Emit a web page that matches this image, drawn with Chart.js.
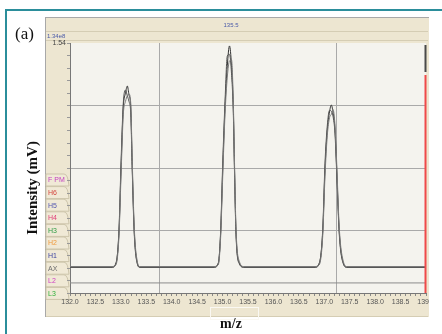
<!DOCTYPE html>
<html lang="en">
<head>
<meta charset="UTF-8">
<title>m/z scan</title>
<script src="https://cdn.jsdelivr.net/npm/chart.js"></script>
<style>
  html, body { margin: 0; padding: 0; background: #fff; }
  canvas { display: block; }
</style>
</head>
<body>
<canvas id="scanChart" width="442" height="334"></canvas>
<script>
// m/z sample positions shared by the three traces
const mzPoints = [
  132.000,
  132.826, 132.904, 132.963, 133.003, 133.048, 133.091, 133.127, 133.160, 133.194, 133.225, 133.264, 133.323, 133.376,
  134.831, 134.916, 134.963, 135.003, 135.048, 135.093, 135.136, 135.176, 135.211, 135.235, 135.264, 135.329, 135.421,
  136.817, 136.902, 136.969, 137.014, 137.059, 137.103, 137.138, 137.171, 137.211, 137.244, 137.295, 137.374, 137.447,
  139.000
];
const traceA = [
  0.160,
  0.160, 0.185, 0.376, 0.764, 1.146, 1.230, 1.275, 1.220, 1.146, 0.764, 0.376, 0.185, 0.160,
  0.160, 0.185, 0.376, 0.764, 1.146, 1.400, 1.522, 1.400, 1.146, 0.764, 0.376, 0.185, 0.160,
  0.160, 0.185, 0.376, 0.764, 1.004, 1.115, 1.158, 1.115, 1.004, 0.764, 0.376, 0.185, 0.160,
  0.160
];
const traceB = [
  0.157,
  0.157, 0.180, 0.390, 0.800, 1.170, 1.250, 1.215, 1.180, 1.110, 0.740, 0.360, 0.180, 0.157,
  0.157, 0.180, 0.390, 0.800, 1.180, 1.460, 1.470, 1.350, 1.110, 0.740, 0.360, 0.180, 0.157,
  0.157, 0.180, 0.390, 0.800, 1.030, 1.125, 1.120, 1.090, 0.980, 0.740, 0.360, 0.180, 0.157,
  0.157
];
const traceC = [
  0.163,
  0.163, 0.175, 0.350, 0.720, 1.100, 1.180, 1.215, 1.225, 1.170, 0.800, 0.400, 0.195, 0.163,
  0.163, 0.175, 0.350, 0.720, 1.100, 1.330, 1.430, 1.435, 1.180, 0.800, 0.400, 0.195, 0.163,
  0.163, 0.175, 0.350, 0.720, 0.970, 1.080, 1.100, 1.130, 1.030, 0.800, 0.400, 0.195, 0.163,
  0.163
];
// flat collector trace below the baseline
const flatMz = [132.0, 139.0];
const flatValues = [0.062, 0.062];

// axis labels
const xLabels = [132.0, 132.5, 133.0, 133.5, 134.0, 134.5, 135.0, 135.5, 136.0, 136.5, 137.0, 137.5, 138.0, 138.5, 139.0];
const yMax = 1.54;
const gridX = [133.75, 137.23];
const collectors = ["F PM", "H6", "H5", "H4", "H3", "H2", "H1", "AX", "L2", "L3"];
const collectorColors = ["#c33fc0", "#d4473f", "#5558b0", "#e0407a", "#2f9c45", "#ef9a3c", "#3d44a0", "#6e6e6e", "#d040c4", "#2fb03a"];

function toPoints(xs, ys) {
  return xs.map((x, i) => ({ x: x, y: ys[i] }));
}

const windowPlugin = {
  id: "windowPlugin",
  beforeDraw(chart) {
    const c = chart.ctx;
    const a = chart.chartArea;
    c.save();
    c.fillStyle = "#fff";
    c.fillRect(0, 0, chart.width, chart.height);

    // teal frame
    c.strokeStyle = "#2b8e9b";
    c.lineWidth = 2;
    c.beginPath();
    c.moveTo(442, 10);
    c.lineTo(6, 10);
    c.lineTo(6, 334);
    c.stroke();

    // software window
    c.fillStyle = "#ede6d1";
    c.fillRect(45, 17, 384, 300);
    c.lineWidth = 1;
    c.strokeStyle = "#a8a8a8";
    c.beginPath();
    c.moveTo(45, 17.5); c.lineTo(429, 17.5);
    c.moveTo(45.5, 17); c.lineTo(45.5, 317);
    c.stroke();
    c.strokeStyle = "#d5cdb4";
    c.beginPath();
    c.moveTo(46, 31.5); c.lineTo(428, 31.5);
    c.moveTo(46, 40.5); c.lineTo(428, 40.5);
    c.moveTo(46, 316.5); c.lineTo(428, 316.5);
    c.stroke();

    c.fillStyle = "#4a5aa8";
    c.font = "6px 'Liberation Sans'";
    c.textBaseline = "middle";
    c.textAlign = "center";
    c.fillText("135.5", 231, 25);
    c.textAlign = "left";
    c.fillText("1.34e8", 47, 36);

    // plot background
    c.fillStyle = "#f4f3ee";
    c.fillRect(a.left, a.top, a.right - a.left, a.bottom - a.top);

    // collector tabs
    c.font = "7px 'Liberation Sans'";
    collectors.forEach((name, i) => {
      const cy = 180 + i * 12.6;
      c.fillStyle = "#f0e9d6";
      c.strokeStyle = "#cdc5ab";
      c.beginPath();
      c.moveTo(46, cy - 6);
      c.lineTo(64, cy - 6);
      c.quadraticCurveTo(68, cy - 6, 69, cy + 6);
      c.lineTo(46, cy + 6);
      c.closePath();
      c.fill();
      c.stroke();
      c.fillStyle = collectorColors[i];
      c.fillText(name, 48, cy + 0.5);
    });

    // m/z box
    c.strokeStyle = "#faf8f2";
    c.strokeRect(210.5, 307.5, 48, 12);

    // titles
    c.fillStyle = "#111";
    c.font = "17px 'Liberation Serif'";
    c.textAlign = "left";
    c.textBaseline = "alphabetic";
    c.fillText("(a)", 15, 39);
    c.font = "bold 14px 'Liberation Serif'";
    c.textAlign = "center";
    c.fillText("m/z", 231, 328);
    c.save();
    c.translate(37, 188);
    c.rotate(-Math.PI / 2);
    c.font = "bold 15px 'Liberation Serif'";
    c.fillText("Intensity (mV)", 0, 0);
    c.restore();
    c.restore();
  },
  beforeDatasetsDraw(chart) {
    const c = chart.ctx;
    const a = chart.chartArea;
    const xs = chart.scales.x;
    c.save();
    c.strokeStyle = "#a9a9a9";
    c.lineWidth = 1;
    gridX.forEach(v => {
      const px = Math.round(xs.getPixelForValue(v)) + 0.5;
      c.beginPath();
      c.moveTo(px, a.top);
      c.lineTo(px, a.bottom);
      c.stroke();
    });
    c.restore();
  },
  afterDraw(chart) {
    const c = chart.ctx;
    const a = chart.chartArea;
    c.save();
    c.fillStyle = "#fff";
    c.fillRect(429, 12, 13, 322);
    c.fillStyle = "#4a4a4a";
    c.fillRect(a.right - 1.5, a.top + 2, 2, 27);
    c.fillStyle = "#ef4a4a";
    c.fillRect(a.right - 1.5, a.top + 32, 2, a.bottom - a.top - 32);
    c.restore();
  }
};

const traceStyle = {
  pointRadius: 0,
  borderWidth: 1,
  cubicInterpolationMode: "monotone",
  fill: false
};

new Chart(document.getElementById("scanChart"), {
  type: "line",
  data: {
    datasets: [
      Object.assign({ data: toPoints(flatMz, flatValues), borderColor: "#8c8c8c" }, traceStyle),
      Object.assign({ data: toPoints(mzPoints, traceC), borderColor: "#7a7a7a" }, traceStyle),
      Object.assign({ data: toPoints(mzPoints, traceB), borderColor: "#555" }, traceStyle),
      Object.assign({ data: toPoints(mzPoints, traceA), borderColor: "#333" }, traceStyle)
    ]
  },
  options: {
    responsive: false,
    animation: false,
    devicePixelRatio: 1,
    layout: { padding: { left: 45, right: 16, top: 43, bottom: 17 } },
    plugins: { legend: { display: false }, tooltip: { enabled: false } },
    scales: {
      x: {
        type: "linear",
        min: 132,
        max: 139,
        afterBuildTicks(s) {
          const t = [];
          for (let i = 0; i <= 70; i++) t.push({ value: Math.round((132 + i * 0.1) * 10) / 10 });
          s.ticks = t;
        },
        afterFit(s) { s.height = 24; },
        ticks: {
          autoSkip: false,
          maxRotation: 0,
          padding: 2,
          color: "#555",
          font: { family: "Liberation Sans", size: 7 },
          callback(v) {
            return xLabels.some(l => Math.abs(l - v) < 1e-6) ? v.toFixed(1) : "";
          }
        },
        grid: { drawOnChartArea: false, drawTicks: true, tickLength: 3, tickColor: "#888" },
        border: { color: "#777" }
      },
      y: {
        min: 0,
        max: yMax,
        afterBuildTicks(s) {
          const t = [];
          for (let i = 0; i <= 20; i++) t.push({ value: Math.round(i * yMax / 20 * 1000) / 1000 });
          s.ticks = t;
        },
        afterFit(s) { s.width = 25; },
        ticks: {
          autoSkip: false,
          padding: 1,
          color: "#444",
          font: { family: "Liberation Sans", size: 7 },
          callback(v, i, t) { return i === t.length - 1 ? yMax.toFixed(2) : ""; }
        },
        grid: {
          color: ctx => (ctx.index % 5 === 0 && ctx.index > 0 && ctx.index < 20) ? "#a9a9a9" : "rgba(0,0,0,0)",
          tickColor: "#999",
          tickLength: 3
        },
        border: { color: "#777" }
      }
    }
  },
  plugins: [windowPlugin]
});
</script>
</body>
</html>
